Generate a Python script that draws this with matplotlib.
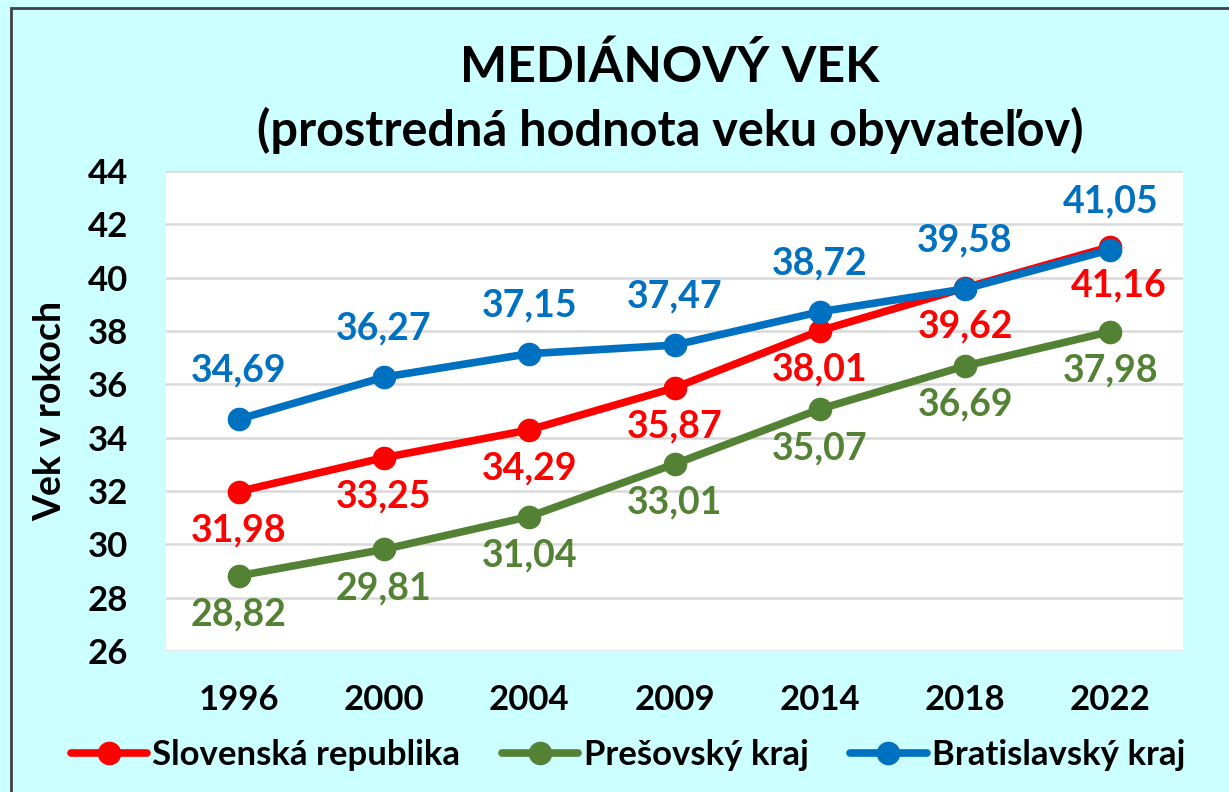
import matplotlib.pyplot as plt
import matplotlib.patches as patches

plt.rcParams['font.family'] = ['Lato', 'DejaVu Sans']

roky = ["1996", "2000", "2004", "2009", "2014", "2018", "2022"]
slovensko = [31.98, 33.25, 34.29, 35.87, 38.01, 39.62, 41.16]
presov = [28.82, 29.81, 31.04, 33.01, 35.07, 36.69, 37.98]
bratislava = [34.69, 36.27, 37.15, 37.47, 38.72, 39.58, 41.05]

c_red = "#FF0000"
c_green = "#548235"
c_blue = "#0070C0"
bg = "#CCFFFF"

fig = plt.figure(figsize=(12.29, 7.92), dpi=100)
fig.patch.set_facecolor(bg)

# outer frame like the excel chart border
fig.patches.append(patches.Rectangle((11/1229, -0.05), 1.1, 1 - 8/792 + 0.05,
                                     transform=fig.transFigure, fill=False,
                                     edgecolor="#404040", linewidth=2))

ax = fig.add_axes([166/1229, 1 - 651/792, (1183-166)/1229, (651-171)/792])
ax.set_facecolor("white")

x = list(range(len(roky)))

def fmt(v):
    return f"{v:.2f}".replace(".", ",")

series = [
    (slovensko, c_red, "Slovenská republika", -28),
    (presov, c_green, "Prešovský kraj", -28),
    (bratislava, c_blue, "Bratislavský kraj", 35),
]

for vals, col, name, off in series:
    ax.plot(x, vals, color=col, linewidth=5.5, marker="o", markersize=16,
            label=name, solid_capstyle="round", zorder=3)
    for i, v in enumerate(vals):
        dx = 6 if (col == c_red and i == len(vals) - 1) else 0
        ax.annotate(fmt(v), (i, v), xytext=(dx, off), textcoords="offset points",
                    ha="center", va="center", color=col, fontsize=27,
                    fontweight="bold", zorder=4)

ax.set_xlim(-0.5, len(roky) - 0.5)
ax.set_ylim(26, 44)
ax.set_yticks(range(26, 45, 2))
ax.set_xticks(x)
ax.set_xticklabels(roky)
ax.grid(axis="y", color="#D9D9D9", linewidth=1.8)
ax.set_axisbelow(True)
for s in ax.spines.values():
    s.set_visible(False)
ax.tick_params(axis="both", length=0, labelsize=25)
ax.tick_params(axis="y", pad=27)
ax.tick_params(axis="x", pad=24)
for lab in ax.get_xticklabels() + ax.get_yticklabels():
    lab.set_fontweight("bold")

ax.set_ylabel("Vek v rokoch", fontsize=27, fontweight="bold")
ax.yaxis.set_label_coords(-0.097, 0.5)

fig.text(0.545, 1 - 67/792, "MEDIÁNOVÝ VEK", ha="center", va="center",
         fontsize=36, fontweight="bold")
fig.text(0.545, 1 - 130/792, "(prostredná hodnota veku obyvateľov)", ha="center",
         va="center", fontsize=35, fontweight="bold")

fig.legend(loc="center", bbox_to_anchor=(0.511, 1 - 755/792), ncol=3, frameon=False,
           prop={"weight": "bold", "size": 25}, handlelength=2.2,
           handletextpad=0.15, columnspacing=1.2)

fig.savefig("out.png", dpi=100, facecolor=bg)
